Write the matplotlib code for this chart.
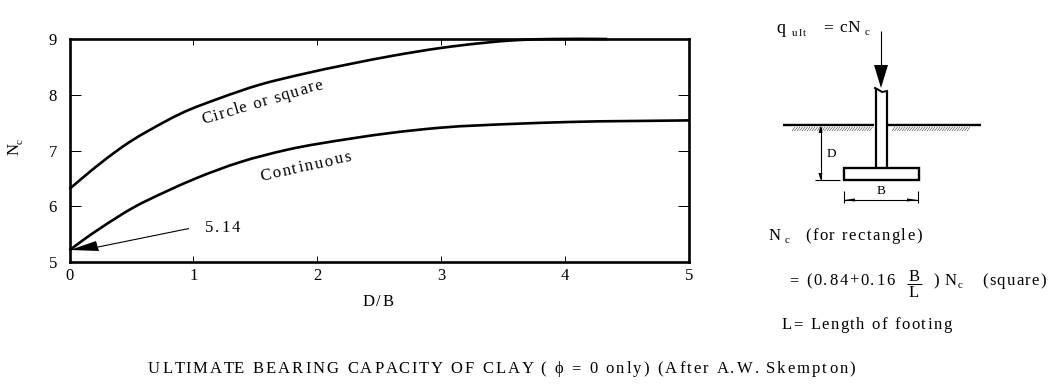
import matplotlib
matplotlib.use("Agg")
import matplotlib.pyplot as plt
import numpy as np
from matplotlib.patches import Rectangle, Polygon, PathPatch
from matplotlib.path import Path
from matplotlib.text import Text
from matplotlib.transforms import Bbox

W, H = 1053, 388
FONT = "Liberation Serif"
plt.rcParams["font.family"] = FONT

d_over_b_square = [0, 0.165, 0.355, 0.49, 0.65, 0.905, 1.215, 1.535, 1.86, 2.26, 2.61, 3.0, 3.34, 3.61, 3.9, 4.34]
nc_square = [6.31, 6.62, 6.95, 7.16, 7.37, 7.67, 7.94, 8.18, 8.36, 8.55, 8.70, 8.84, 8.93, 8.98, 9.0, 9.0]
d_over_b_cont = [0, 0.12, 0.245, 0.51, 0.785, 1.02, 1.375, 1.75, 2.26, 2.61, 3.0, 3.61, 4.01, 5.0]
nc_cont = [5.21, 5.41, 5.6, 5.97, 6.27, 6.50, 6.79, 7.01, 7.21, 7.32, 7.41, 7.48, 7.51, 7.54]
x_ticks = [0, 1, 2, 3, 4, 5]
y_ticks = [5, 6, 7, 8, 9]


class SpacedText(Text):
    """A single text artist drawn with letter-spacing (px), anchored at its left baseline."""

    def __init__(self, x, y, s, spacing=0, **kw):
        super().__init__(x, y, s, ha="left", va="baseline", rotation_mode="anchor", **kw)
        self.spacing = spacing

    def _offsets(self, renderer):
        fp = self.get_fontproperties()
        w = lambda t: renderer.get_text_width_height_descent(t, fp, False)[0]
        s = self.get_text()
        bar = w("|")
        return [w(s[:i] + "|") - bar + i * self.spacing for i in range(len(s) + 1)]

    def draw(self, renderer):
        if not self.get_visible():
            return
        x0, y0 = self.get_transform().transform(self.get_position())
        a = np.deg2rad(self.get_rotation())
        offs = self._offsets(renderer)
        for ch, o in zip(self.get_text(), offs):
            if ch == " ":
                continue
            t = Text(x0 + o * np.cos(a), y0 + o * np.sin(a), ch, ha="left", va="baseline",
                     rotation=self.get_rotation(), rotation_mode="anchor",
                     fontproperties=self.get_fontproperties(), color=self.get_color())
            t.set_figure(self.get_figure())
            t.draw(renderer)

    def get_window_extent(self, renderer=None, dpi=None):
        renderer = renderer or self.get_figure().canvas.get_renderer()
        x0, y0 = self.get_transform().transform(self.get_position())
        a = np.deg2rad(self.get_rotation())
        L = self._offsets(renderer)[-1]
        h = self.get_fontproperties().get_size_in_points() * self.get_figure().dpi / 72
        xs = [x0, x0 + L * np.cos(a)]
        ys = [y0, y0 + L * np.sin(a)]
        return Bbox.from_extents(min(xs), min(ys), max(xs), max(ys) + h * 0.7)


def smooth_curve(ax, xs, ys, lw=1.9):
    """Draw a curve through the read points as cubic Bezier segments."""
    x, y = np.asarray(xs, float), np.asarray(ys, float)
    m = np.gradient(y, x)
    verts, codes = [(x[0], y[0])], [Path.MOVETO]
    for i in range(len(x) - 1):
        h = (x[i + 1] - x[i]) / 3
        verts += [(x[i] + h, y[i] + m[i] * h), (x[i + 1] - h, y[i + 1] - m[i + 1] * h), (x[i + 1], y[i + 1])]
        codes += [Path.CURVE4] * 3
    ax.add_patch(PathPatch(Path(verts, codes), fill=False, ec="k", lw=lw, clip_on=False, capstyle="butt"))


fig = plt.figure(figsize=(W / 100, H / 100), dpi=100)
ax = fig.add_axes([69.5 / W, 1 - 262 / H, (689 - 69.5) / W, (262 - 39) / H])
ax.set_xlim(0, 5)
ax.set_ylim(5, 9)
for s in ax.spines.values():
    s.set_linewidth(1.9)
ax.set_xticks(x_ticks)
ax.set_yticks(y_ticks)
ax.tick_params(axis="x", direction="in", length=4, width=0.7, labelsize=12, pad=4, top=True)
ax.tick_params(axis="y", direction="in", length=8, width=0.7, labelsize=12, pad=9, right=True)
smooth_curve(ax, d_over_b_square, nc_square)
smooth_curve(ax, d_over_b_cont, nc_cont)

# full-figure pixel overlay (image coordinates, y down)
ov = fig.add_axes([0, 0, 1, 1], facecolor="none")
ov.set_xlim(0, W)
ov.set_ylim(H, 0)
ov.axis("off")


def put(x, y, s, size=12, sp=1.5, rot=0, **kw):
    t = SpacedText(x, y, s, spacing=sp, fontsize=size, rotation=rot, transform=ov.transData, **kw)
    ov.add_artist(t)
    return t


def line(xs, ys, lw=1.0):
    ov.plot(xs, ys, color="k", lw=lw, solid_capstyle="butt")


# axis labels
put(363, 306, "D/B", sp=1.5)
put(18.5, 155, "N", sp=0, rot=90)
put(22.5, 144, "c", size=8, sp=0, rot=90)

# curve annotations
put(203, 124, "Circle or square", sp=1.27, rot=16.5)
put(261, 181, "Continuous", sp=1.8, rot=12.5)
put(205, 232, "5.14", sp=2)
line([189, 98], [228.5, 247], lw=0.8)
ov.add_patch(Polygon([(70, 250), (96, 241), (99, 251)], closed=True, color="k", lw=0))

# footing sketch
line([881, 881], [31, 65], lw=0.8)
ov.add_patch(Polygon([(874, 65), (888, 65), (881, 88)], closed=True, color="k", lw=0))
line([875.5, 875.5], [167, 88], lw=1.6)
line([886.5, 886.5], [167, 91], lw=1.6)
ov.plot([875, 878, 882, 887], [88, 89.5, 92, 91], color="k", lw=1.4)
line([783, 874], [125, 125], lw=1.7)
line([888, 981], [125, 125], lw=1.7)
for a, b in [(792, 871), (892, 969)]:
    for xh in np.arange(a, b, 2.5):
        line([xh, xh + 3], [131, 127], lw=0.3)
ov.add_patch(Rectangle((844, 167.5), 74.5, 12.5, fill=False, ec="k", lw=1.7))
line([820.5, 820.5], [127, 180], lw=0.8)
ov.add_patch(Polygon([(818.5, 133), (822.5, 133), (820.5, 126)], closed=True, color="k", lw=0))
ov.add_patch(Polygon([(818.5, 173), (822.5, 173), (820.5, 180)], closed=True, color="k", lw=0))
line([815, 840], [180, 180], lw=0.8)
line([844, 844], [191, 203], lw=0.8)
line([918, 918], [191, 203], lw=0.8)
line([844, 918], [200, 200], lw=0.8)
ov.add_patch(Polygon([(844, 200), (855, 198.5), (855, 201.5)], closed=True, color="k", lw=0))
ov.add_patch(Polygon([(918, 200), (907, 198.5), (907, 201.5)], closed=True, color="k", lw=0))
put(827, 157, "D", size=9.5, sp=0)
put(877, 194, "B", size=9.5, sp=0)

# right-hand formulae
put(776, 33, "q", size=13, sp=0)
put(792, 36, "ult", size=8, sp=1.3)
put(823, 32, "= cN", size=12.5, sp=1.0)
put(865, 35, "c", size=8, sp=0)
put(769, 240, "N", sp=0)
put(785, 243, "c", size=8, sp=0)
put(805, 240, "(for rectangle)", sp=1.5)
put(789, 285, "= (0.84+0.16", sp=1.7)
put(909, 281, "B", sp=0)
line([907, 922], [284, 284], lw=0.7)
put(909, 297, "L", sp=0)
put(933, 285, ") N", sp=1.0)
put(958, 288, "c", size=8, sp=0)
put(982, 285, "(square)", sp=1.3)
put(782, 329, "L= Length of footing", sp=1.5)

# caption
put(148, 373, "ULTIMATE BEARING CAPACITY OF CLAY ( \u03d5 = 0 only) (After A.W. Skempton)", sp=2.1)

fig.savefig("out.png", dpi=100)
